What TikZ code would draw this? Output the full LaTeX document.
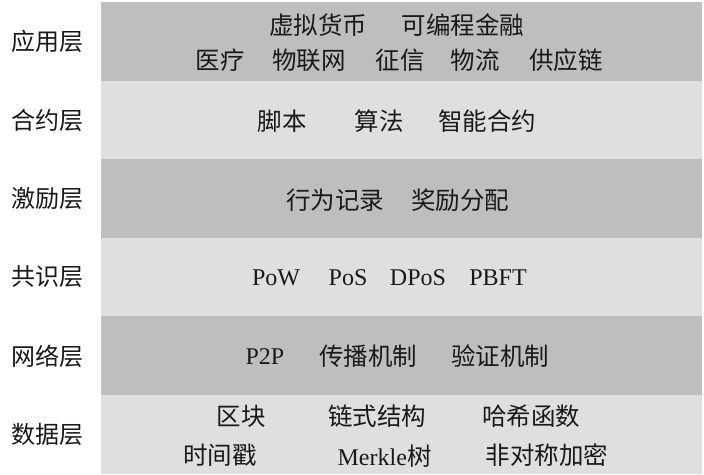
\documentclass[tikz,border=0pt]{standalone}
\usepackage{fontspec}
\setmainfont{Liberation Serif}
\newfontfamily\cjk{Noto Sans CJK SC}
\definecolor{bandDark}{RGB}{190,190,190}
\definecolor{bandLight}{RGB}{223,223,223}
\definecolor{txt}{RGB}{25,25,25}
\begin{document}
\begin{tikzpicture}[x=1pt,y=-1pt,
  lbl/.style={font=\cjk\fontsize{24}{26}\selectfont, text=txt, inner sep=0pt, anchor=center},
  itm/.style={font=\cjk\fontsize{24.5}{26}\selectfont, text=txt, inner sep=0pt, anchor=center},
  lat/.style={font=\fontsize{24}{26}\selectfont, text=txt, inner sep=0pt, anchor=center},
  dark/.style={fill=bandDark, draw=none},
  light/.style={fill=bandLight, draw=none}]
\useasboundingbox (0,0) rectangle (704,474);
\fill[white] (0,0) rectangle (704,474);
% bands
\path[dark]  (101,2)     rectangle (702,80.5);
\path[light] (101,80.5)  rectangle (702,159);
\path[dark]  (101,159)   rectangle (702,237.5);
\path[light] (101,237.5) rectangle (702,316);
\path[dark]  (101,316)   rectangle (702,395);
\path[light] (101,395)   rectangle (702,474);
% layer labels
\node[lbl] (l1) at (47,41)  {应用层};
\node[lbl] (l2) at (47,120) {合约层};
\node[lbl] (l3) at (47,198) {激励层};
\node[lbl] (l4) at (47,277) {共识层};
\node[lbl] (l5) at (47,356) {网络层};
\node[lbl] (l6) at (47,434) {数据层};
% application layer
\node[itm] (a1) at (318,25) {虚拟货币};
\node[itm] (a2) at (463,25) {可编程金融};
\node[itm] (a3) at (220,60) {医疗};
\node[itm] (a4) at (309,60) {物联网};
\node[itm] (a5) at (400,60) {征信};
\node[itm] (a6) at (475,60) {物流};
\node[itm] (a7) at (566,60) {供应链};
% contract layer
\node[itm] (c1) at (282,121) {脚本};
\node[itm] (c2) at (379,121) {算法};
\node[itm] (c3) at (487,121) {智能合约};
% incentive layer
\node[itm] (i1) at (335,200) {行为记录};
\node[itm] (i2) at (460,200) {奖励分配};
% consensus layer
\node[lat] (s1) at (276,278) {PoW};
\node[lat] (s2) at (348,278) {PoS};
\node[lat] (s3) at (418,278) {DPoS};
\node[lat] (s4) at (498,278) {PBFT};
% network layer
\node[lat] (n1) at (265,357) {P2P};
\node[itm] (n2) at (368,356) {传播机制};
\node[itm] (n3) at (500,356) {验证机制};
% data layer
\node[itm] (d1) at (241,416) {区块};
\node[itm] (d2) at (377,416) {链式结构};
\node[itm] (d3) at (531,416) {哈希函数};
\node[itm] (d4) at (220,455) {时间戳};
\node[lat] (d5) at (385,456) {Merkle\hspace{1pt}{\cjk\fontsize{24.5}{26}\selectfont 树}};
\node[itm] (d6) at (547,455) {非对称加密};
\end{tikzpicture}
\end{document}
